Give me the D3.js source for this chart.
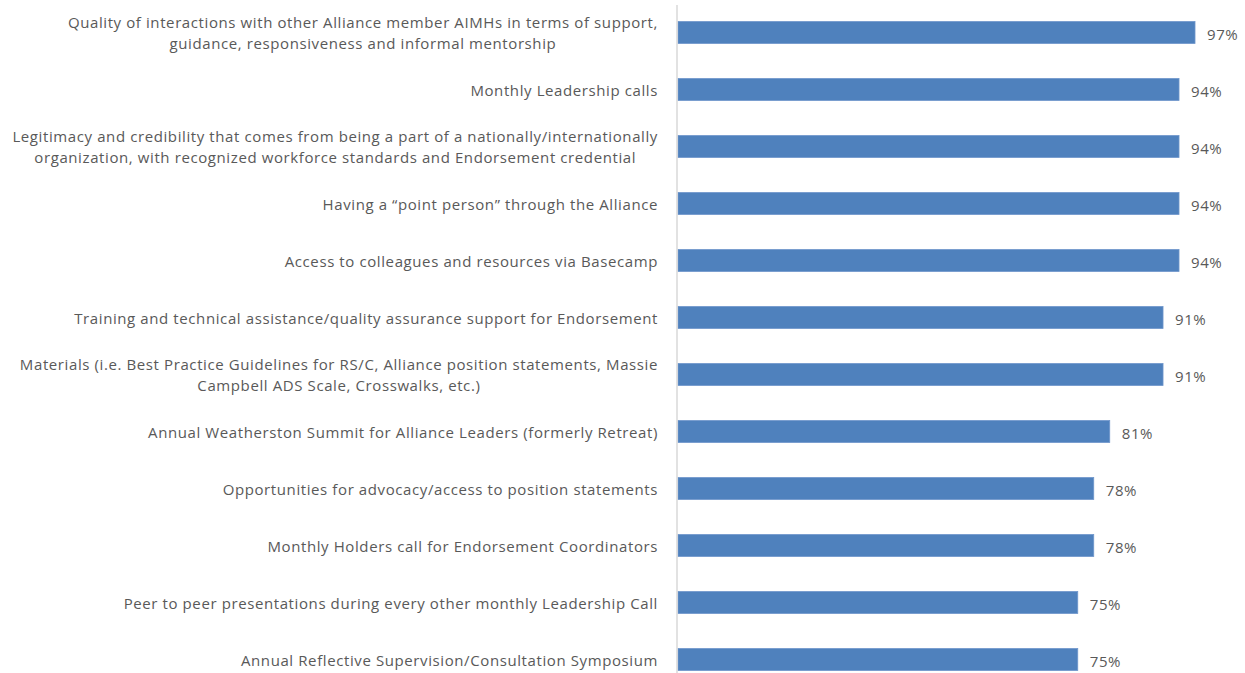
<!DOCTYPE html>
<html>
<head>
<meta charset="utf-8">
<script src="https://cdn.jsdelivr.net/npm/d3@7"></script>
<style>
  body { margin: 0; background: #fff; }
  text { font-family: "Open Sans", sans-serif; fill: #595959; letter-spacing: 0.6px; }
</style>
</head>
<body>
<div class="chart"></div>
<script>
// categories (line breaks marked with \n), top to bottom
var categories = [
    "Quality of interactions with other Alliance member AIMHs in terms of support,\nguidance, responsiveness and informal mentorship",
    "Monthly Leadership calls",
    "Legitimacy and credibility that comes from being a part of a nationally/internationally\norganization, with recognized workforce standards and Endorsement credential",
    "Having a \u201cpoint person\u201d through the Alliance",
    "Access to colleagues and resources via Basecamp",
    "Training and technical assistance/quality assurance support for Endorsement",
    "Materials (i.e. Best Practice Guidelines for RS/C, Alliance position statements, Massie\nCampbell ADS Scale, Crosswalks, etc.)",
    "Annual Weatherston Summit for Alliance Leaders (formerly Retreat)",
    "Opportunities for advocacy/access to position statements",
    "Monthly Holders call for Endorsement Coordinators",
    "Peer to peer presentations during every other monthly Leadership Call",
    "Annual Reflective Supervision/Consultation Symposium"
];
var values = [0.97, 0.94, 0.94, 0.94, 0.94, 0.91, 0.91, 0.81, 0.78, 0.78, 0.75, 0.75];

var svgWidth = 1245;
var svgHeight = 673;

var svg = d3.select(".chart")
    .append("svg")
    .attr("width", svgWidth)
    .attr("height", svgHeight);

var xScale = d3.scaleLinear()
    .domain([0, 1])
    .range([678, 1211]);

var yScale = d3.scaleBand()
    .domain(categories)
    .range([4, 688])
    .paddingInner(0.614)
    .paddingOuter(0.307);

// bars
svg.selectAll("rect.bar")
    .data(values)
    .enter()
    .append("rect")
    .attr("class", "bar")
    .attr("x", xScale(0))
    .attr("y", (d, i) => yScale(categories[i]))
    .attr("width", d => xScale(d) - xScale(0))
    .attr("height", yScale.bandwidth())
    .attr("fill", "#4F81BD")
    .attr("stroke", "#6F96CB")
    .attr("stroke-width", 0.8);

// vertical axis line
svg.append("line")
    .attr("x1", xScale(0) - 1)
    .attr("x2", xScale(0) - 1)
    .attr("y1", 5)
    .attr("y2", svgHeight)
    .attr("stroke", "#D9D9D9")
    .attr("stroke-width", 1.5);

// value labels
svg.selectAll("text.value")
    .data(values)
    .enter()
    .append("text")
    .attr("class", "value")
    .attr("x", d => xScale(d) + 12)
    .attr("y", (d, i) => yScale(categories[i]) + yScale.bandwidth() / 2 + 1)
    .attr("dominant-baseline", "central")
    .style("font-size", "15px")
    .text(d => Math.round(d * 100) + "%");

// category labels: block right aligned, lines centred within block
var labelRight = 658;
var lineHeight = 21;
categories.forEach(function(cat) {
    var lines = cat.split("\n");
    var cy = yScale(cat) + yScale.bandwidth() / 2;
    var g = svg.append("g");
    var texts = lines.map(function(line, j) {
        return g.append("text")
            .attr("y", cy + (j - (lines.length - 1) / 2) * lineHeight)
            .attr("dominant-baseline", "central")
            .attr("text-anchor", "middle")
            .style("font-size", "15px")
            .text(line);
    });
    var maxW = d3.max(texts, t => t.node().getComputedTextLength());
    texts.forEach(t => t.attr("x", labelRight - maxW / 2));
});
</script>
</body>
</html>
